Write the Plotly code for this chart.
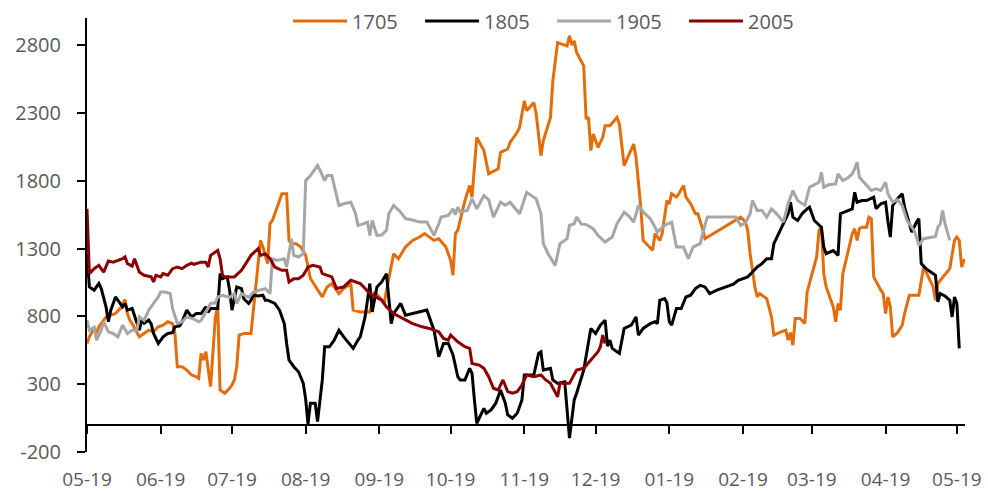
import plotly.graph_objects as go

# ---- data -------------------------------------------------------------
tick_dates = ["2019-05-19", "2019-06-19", "2019-07-19", "2019-08-19", "2019-09-19",
              "2019-10-19", "2019-11-19", "2019-12-19", "2020-01-19", "2020-02-19",
              "2020-03-19", "2020-04-19", "2020-05-19"]
tick_labels = ["05-19", "06-19", "07-19", "08-19", "09-19", "10-19", "11-19",
               "12-19", "01-19", "02-19", "03-19", "04-19", "05-19"]
y_ticks = [-200, 300, 800, 1300, 1800, 2300, 2800]
y_tick_labels = ["-200", "300", "800", "1300", "1800", "2300", "2800"]

d1705 = ["2019-05-19", "2019-05-20", "2019-05-22", "2019-05-23", "2019-05-24", "2019-05-26",
         "2019-05-27", "2019-05-29", "2019-05-31", "2019-06-02", "2019-06-04", "2019-06-05",
         "2019-06-06", "2019-06-07", "2019-06-10", "2019-06-12", "2019-06-14", "2019-06-16",
         "2019-06-18", "2019-06-20", "2019-06-22", "2019-06-24", "2019-06-25", "2019-06-26",
         "2019-06-28", "2019-06-30", "2019-07-02", "2019-07-04", "2019-07-05", "2019-07-06",
         "2019-07-07", "2019-07-08", "2019-07-10", "2019-07-12", "2019-07-13", "2019-07-14",
         "2019-07-16", "2019-07-18", "2019-07-19", "2019-07-20", "2019-07-21", "2019-07-22",
         "2019-07-24", "2019-07-27", "2019-07-29", "2019-07-31", "2019-08-01", "2019-08-03",
         "2019-08-04", "2019-08-05", "2019-08-07", "2019-08-09", "2019-08-11", "2019-08-12",
         "2019-08-13", "2019-08-15", "2019-08-17", "2019-08-19", "2019-08-21", "2019-08-24",
         "2019-08-26", "2019-08-28", "2019-08-30", "2019-09-02", "2019-09-04", "2019-09-07",
         "2019-09-08", "2019-09-11", "2019-09-15", "2019-09-17", "2019-09-19", "2019-09-21",
         "2019-09-22", "2019-09-23", "2019-09-25", "2019-09-27", "2019-09-30", "2019-10-03",
         "2019-10-06", "2019-10-08", "2019-10-12", "2019-10-14", "2019-10-17", "2019-10-19",
         "2019-10-20", "2019-10-21", "2019-10-22", "2019-10-25", "2019-10-27", "2019-10-28",
         "2019-10-30", "2019-11-02", "2019-11-04", "2019-11-08", "2019-11-09", "2019-11-12",
         "2019-11-13", "2019-11-16", "2019-11-17", "2019-11-19", "2019-11-20", "2019-11-23",
         "2019-11-24", "2019-11-26", "2019-11-27", "2019-11-30", "2019-12-01", "2019-12-03",
         "2019-12-07", "2019-12-08", "2019-12-09", "2019-12-10", "2019-12-11", "2019-12-14",
         "2019-12-15", "2019-12-16", "2019-12-17", "2019-12-18", "2019-12-20", "2019-12-22",
         "2019-12-23", "2019-12-25", "2019-12-28", "2019-12-29", "2019-12-31", "2020-01-04",
         "2020-01-05", "2020-01-07", "2020-01-08", "2020-01-12", "2020-01-13", "2020-01-15",
         "2020-01-16", "2020-01-18", "2020-01-19", "2020-01-20", "2020-01-22", "2020-01-23",
         "2020-01-25", "2020-01-26", "2020-01-28", "2020-01-30", "2020-01-31", "2020-02-02",
         "2020-02-03", "2020-02-18", "2020-02-20", "2020-02-21", "2020-02-22", "2020-02-24",
         "2020-02-25", "2020-02-26", "2020-02-29", "2020-03-02", "2020-03-03", "2020-03-06",
         "2020-03-08", "2020-03-09", "2020-03-10", "2020-03-11", "2020-03-12", "2020-03-14",
         "2020-03-16", "2020-03-17", "2020-03-18", "2020-03-20", "2020-03-21", "2020-03-22",
         "2020-03-23", "2020-03-24", "2020-03-25", "2020-03-28", "2020-03-29", "2020-03-30",
         "2020-03-31", "2020-04-01", "2020-04-03", "2020-04-05", "2020-04-06", "2020-04-07",
         "2020-04-08", "2020-04-09", "2020-04-11", "2020-04-12", "2020-04-13", "2020-04-14",
         "2020-04-17", "2020-04-18", "2020-04-19", "2020-04-20", "2020-04-21", "2020-04-22",
         "2020-04-24", "2020-04-26", "2020-04-27", "2020-04-29", "2020-05-03", "2020-05-05",
         "2020-05-07", "2020-05-09", "2020-05-10", "2020-05-11", "2020-05-12", "2020-05-16",
         "2020-05-18", "2020-05-19", "2020-05-20", "2020-05-21", "2020-05-22", "2020-05-23"]
v1705 = [600, 649, 713, 676, 723, 772,
         796, 809, 821, 858, 924, 821,
         772, 747, 649, 674, 698, 686,
         723, 735, 760, 747, 674, 429,
         429, 404, 368, 355, 343, 527,
         478, 539, 282, 796, 870, 257,
         233, 270, 294, 331, 429, 662,
         674, 674, 1017, 1360, 1311, 1189,
         1483, 1507, 1605, 1704, 1704, 1360,
         1336, 1336, 1311, 1250, 1079, 993,
         943, 1017, 1042, 968, 1005, 1042,
         846, 833, 833, 980, 943, 895,
         993, 1091, 1262, 1225, 1311, 1360,
         1385, 1410, 1360, 1373, 1311, 1213,
         1103, 1410, 1434, 1654, 1765, 1679,
         2120, 2022, 1851, 1888, 2010, 2034,
         2083, 2157, 2193, 2390, 2316, 2377,
         2292, 1985, 2096, 2267, 2537, 2818,
         2794, 2868, 2800, 2831, 2745, 2647,
         2255, 2267, 2022, 2145, 2047, 2120,
         2206, 2206, 2267, 2218, 1912, 2071,
         1973, 1605, 1360, 1287, 1410, 1360,
         1410, 1654, 1630, 1704, 1680, 1704,
         1765, 1679, 1630, 1557, 1557, 1446,
         1373, 1532, 1500, 1434, 1262, 1017,
         943, 968, 931, 796, 662, 686,
         698, 625, 680, 588, 784, 784,
         747, 980, 1042, 1164, 1238, 1434,
         1458, 1115, 1017, 870, 760, 895,
         846, 1115, 1262, 1410, 1446, 1360,
         1446, 1458, 1458, 1532, 1520, 1091,
         993, 968, 821, 943, 870, 649,
         680, 735, 821, 956, 956, 1164,
         1091, 1017, 919, 1042, 1066, 1152,
         1360, 1385, 1360, 1164, 1213, 1213]

d1805 = ["2019-05-19", "2019-05-20", "2019-05-22", "2019-05-24", "2019-05-25", "2019-05-27",
         "2019-05-28", "2019-05-29", "2019-05-31", "2019-06-01", "2019-06-03", "2019-06-04",
         "2019-06-05", "2019-06-07", "2019-06-08", "2019-06-10", "2019-06-11", "2019-06-12",
         "2019-06-14", "2019-06-15", "2019-06-16", "2019-06-18", "2019-06-20", "2019-06-22",
         "2019-06-24", "2019-06-25", "2019-06-27", "2019-06-28", "2019-06-30", "2019-07-02",
         "2019-07-04", "2019-07-06", "2019-07-08", "2019-07-09", "2019-07-10", "2019-07-13",
         "2019-07-14", "2019-07-15", "2019-07-17", "2019-07-18", "2019-07-19", "2019-07-21",
         "2019-07-23", "2019-07-24", "2019-07-26", "2019-07-27", "2019-07-28", "2019-07-30",
         "2019-08-01", "2019-08-02", "2019-08-03", "2019-08-06", "2019-08-08", "2019-08-10",
         "2019-08-11", "2019-08-12", "2019-08-13", "2019-08-14", "2019-08-16", "2019-08-18",
         "2019-08-19", "2019-08-20", "2019-08-21", "2019-08-23", "2019-08-24", "2019-08-26",
         "2019-08-27", "2019-08-29", "2019-08-31", "2019-09-02", "2019-09-04", "2019-09-08",
         "2019-09-10", "2019-09-11", "2019-09-13", "2019-09-14", "2019-09-15", "2019-09-16",
         "2019-09-18", "2019-09-20", "2019-09-22", "2019-09-24", "2019-09-25", "2019-09-28",
         "2019-09-30", "2019-10-03", "2019-10-09", "2019-10-12", "2019-10-14", "2019-10-16",
         "2019-10-18", "2019-10-20", "2019-10-22", "2019-10-23", "2019-10-25", "2019-10-27",
         "2019-10-28", "2019-10-29", "2019-10-30", "2019-11-02", "2019-11-03", "2019-11-05",
         "2019-11-07", "2019-11-09", "2019-11-11", "2019-11-12", "2019-11-14", "2019-11-16",
         "2019-11-18", "2019-11-19", "2019-11-21", "2019-11-23", "2019-11-25", "2019-11-26",
         "2019-11-27", "2019-11-30", "2019-12-01", "2019-12-03", "2019-12-06", "2019-12-08",
         "2019-12-10", "2019-12-11", "2019-12-14", "2019-12-15", "2019-12-17", "2019-12-19",
         "2019-12-21", "2019-12-23", "2019-12-24", "2019-12-25", "2019-12-26", "2019-12-29",
         "2019-12-31", "2020-01-03", "2020-01-05", "2020-01-06", "2020-01-08", "2020-01-11",
         "2020-01-13", "2020-01-14", "2020-01-15", "2020-01-17", "2020-01-18", "2020-01-19",
         "2020-01-20", "2020-01-22", "2020-01-24", "2020-01-26", "2020-01-28", "2020-01-30",
         "2020-02-01", "2020-02-03", "2020-02-05", "2020-02-08", "2020-02-12", "2020-02-15",
         "2020-02-17", "2020-02-19", "2020-02-21", "2020-02-23", "2020-02-25", "2020-02-27",
         "2020-02-29", "2020-03-02", "2020-03-03", "2020-03-05", "2020-03-07", "2020-03-09",
         "2020-03-10", "2020-03-11", "2020-03-13", "2020-03-15", "2020-03-17", "2020-03-18",
         "2020-03-20", "2020-03-21", "2020-03-23", "2020-03-24", "2020-03-25", "2020-03-28",
         "2020-03-30", "2020-03-31", "2020-04-03", "2020-04-05", "2020-04-06", "2020-04-07",
         "2020-04-09", "2020-04-11", "2020-04-14", "2020-04-15", "2020-04-17", "2020-04-19",
         "2020-04-20", "2020-04-21", "2020-04-22", "2020-04-24", "2020-04-26", "2020-04-27",
         "2020-04-29", "2020-04-30", "2020-05-02", "2020-05-03", "2020-05-04", "2020-05-06",
         "2020-05-08", "2020-05-10", "2020-05-11", "2020-05-12", "2020-05-14", "2020-05-16",
         "2020-05-17", "2020-05-18", "2020-05-19", "2020-05-20"]
v1805 = [1262, 1017, 993, 1042, 1005, 870,
         760, 846, 943, 920, 870, 895,
         846, 858, 809, 698, 772, 750,
         772, 745, 674, 600, 649, 674,
         680, 723, 730, 760, 846, 796,
         821, 821, 870, 830, 858, 858,
         1115, 1078, 1091, 993, 846, 1017,
         1005, 930, 895, 919, 956, 950,
         956, 919, 919, 895, 846, 747,
         600, 478, 454, 429, 392, 306,
         190, 5, 160, 160, 24, 331,
         576, 576, 625, 698, 649, 564,
         625, 650, 796, 931, 1042, 833,
         1017, 1054, 1115, 747, 821, 895,
         809, 821, 846, 698, 502, 600,
         600, 515, 355, 331, 331, 417,
         380, 184, 12, 122, 86, 110,
         160, 257, 160, 74, 49, 86,
         184, 368, 370, 368, 527, 539,
         404, 417, 331, 306, 318, -98,
         184, 233, 404, 515, 711, 674,
         735, 772, 580, 625, 564, 527,
         711, 735, 796, 662, 711, 747,
         760, 747, 919, 931, 900, 760,
         735, 858, 858, 943, 956, 1005,
         1029, 1017, 968, 993, 1017, 1037,
         1066, 1078, 1091, 1127, 1164, 1189,
         1225, 1225, 1336, 1410, 1483, 1557,
         1642, 1532, 1507, 1560, 1593, 1605,
         1507, 1490, 1458, 1311, 1262, 1285,
         1250, 1557, 1581, 1593, 1715, 1642,
         1654, 1654, 1679, 1593, 1630, 1642,
         1500, 1385, 1618, 1667, 1704, 1605,
         1483, 1421, 1495, 1520, 1189, 1152,
         1127, 1103, 907, 968, 950, 919,
         796, 943, 895, 564]

d1905 = ["2019-05-19", "2019-05-20", "2019-05-22", "2019-05-23", "2019-05-25", "2019-05-26",
         "2019-05-28", "2019-05-30", "2019-06-01", "2019-06-03", "2019-06-05", "2019-06-07",
         "2019-06-09", "2019-06-10", "2019-06-12", "2019-06-14", "2019-06-16", "2019-06-18",
         "2019-06-19", "2019-06-21", "2019-06-23", "2019-06-24", "2019-06-26", "2019-06-28",
         "2019-06-30", "2019-07-03", "2019-07-05", "2019-07-06", "2019-07-08", "2019-07-09",
         "2019-07-10", "2019-07-12", "2019-07-13", "2019-07-15", "2019-07-18", "2019-07-20",
         "2019-07-21", "2019-07-23", "2019-07-26", "2019-07-28", "2019-07-30", "2019-08-02",
         "2019-08-04", "2019-08-05", "2019-08-07", "2019-08-10", "2019-08-11", "2019-08-13",
         "2019-08-14", "2019-08-16", "2019-08-18", "2019-08-19", "2019-08-21", "2019-08-24",
         "2019-08-25", "2019-08-27", "2019-08-28", "2019-08-30", "2019-09-02", "2019-09-04",
         "2019-09-07", "2019-09-09", "2019-09-10", "2019-09-12", "2019-09-14", "2019-09-15",
         "2019-09-16", "2019-09-18", "2019-09-20", "2019-09-22", "2019-09-23", "2019-09-25",
         "2019-09-28", "2019-09-30", "2019-10-03", "2019-10-06", "2019-10-09", "2019-10-12",
         "2019-10-14", "2019-10-15", "2019-10-18", "2019-10-20", "2019-10-21", "2019-10-22",
         "2019-10-23", "2019-10-26", "2019-10-28", "2019-10-30", "2019-11-02", "2019-11-04",
         "2019-11-06", "2019-11-09", "2019-11-11", "2019-11-13", "2019-11-17", "2019-11-20",
         "2019-11-23", "2019-11-24", "2019-11-26", "2019-11-27", "2019-11-29", "2019-12-02",
         "2019-12-04", "2019-12-07", "2019-12-08", "2019-12-10", "2019-12-11", "2019-12-13",
         "2019-12-15", "2019-12-18", "2019-12-20", "2019-12-23", "2019-12-26", "2019-12-28",
         "2019-12-31", "2020-01-02", "2020-01-04", "2020-01-06", "2020-01-08", "2020-01-11",
         "2020-01-13", "2020-01-14", "2020-01-17", "2020-01-20", "2020-01-22", "2020-01-25",
         "2020-01-27", "2020-01-29", "2020-02-01", "2020-02-02", "2020-02-04", "2020-02-16",
         "2020-02-18", "2020-02-20", "2020-02-22", "2020-02-23", "2020-02-25", "2020-02-27",
         "2020-02-29", "2020-03-02", "2020-03-04", "2020-03-07", "2020-03-09", "2020-03-11",
         "2020-03-13", "2020-03-16", "2020-03-18", "2020-03-20", "2020-03-22", "2020-03-23",
         "2020-03-24", "2020-03-26", "2020-03-29", "2020-03-30", "2020-04-01", "2020-04-03",
         "2020-04-05", "2020-04-06", "2020-04-07", "2020-04-08", "2020-04-11", "2020-04-13",
         "2020-04-15", "2020-04-17", "2020-04-19", "2020-04-20", "2020-04-22", "2020-04-24",
         "2020-04-26", "2020-04-28", "2020-04-29", "2020-05-01", "2020-05-02", "2020-05-03",
         "2020-05-05", "2020-05-08", "2020-05-10", "2020-05-11", "2020-05-12", "2020-05-13",
         "2020-05-14", "2020-05-16"]
v1905 = [772, 698, 720, 625, 698, 760,
         686, 674, 649, 735, 674, 700,
         698, 796, 770, 846, 895, 943,
         980, 980, 968, 858, 747, 760,
         796, 780, 760, 770, 833, 860,
         895, 900, 943, 956, 940, 968,
         895, 968, 940, 980, 990, 1005,
         968, 1225, 1213, 1225, 1164, 1373,
         1250, 1238, 1262, 1801, 1838, 1912,
         1880, 1801, 1838, 1838, 1618, 1630,
         1642, 1557, 1471, 1480, 1495, 1397,
         1507, 1397, 1400, 1434, 1557, 1618,
         1568, 1520, 1510, 1495, 1495, 1397,
         1483, 1532, 1544, 1593, 1550, 1605,
         1570, 1581, 1667, 1593, 1691, 1660,
         1532, 1642, 1620, 1642, 1557, 1715,
         1679, 1667, 1557, 1336, 1262, 1176,
         1336, 1373, 1471, 1483, 1532, 1480,
         1478, 1446, 1397, 1348, 1385, 1483,
         1568, 1540, 1495, 1618, 1570, 1520,
         1458, 1421, 1471, 1495, 1311, 1311,
         1225, 1311, 1336, 1410, 1532, 1532,
         1471, 1490, 1557, 1654, 1581, 1581,
         1532, 1593, 1560, 1495, 1630, 1728,
         1654, 1618, 1752, 1770, 1789, 1862,
         1752, 1770, 1777, 1851, 1801, 1820,
         1851, 1888, 1936, 1826, 1765, 1728,
         1740, 1728, 1789, 1704, 1642, 1660,
         1618, 1507, 1483, 1434, 1385, 1324,
         1373, 1385, 1390, 1458, 1480, 1581,
         1483, 1360]

d2005 = ["2019-05-19", "2019-05-20", "2019-05-22", "2019-05-24", "2019-05-26", "2019-05-28",
         "2019-05-30", "2019-06-01", "2019-06-03", "2019-06-04", "2019-06-05", "2019-06-07",
         "2019-06-08", "2019-06-10", "2019-06-11", "2019-06-12", "2019-06-15", "2019-06-16",
         "2019-06-17", "2019-06-19", "2019-06-20", "2019-06-22", "2019-06-24", "2019-06-26",
         "2019-06-28", "2019-06-30", "2019-07-02", "2019-07-03", "2019-07-06", "2019-07-08",
         "2019-07-09", "2019-07-10", "2019-07-13", "2019-07-14", "2019-07-15", "2019-07-16",
         "2019-07-20", "2019-07-23", "2019-07-27", "2019-07-30", "2019-07-31", "2019-08-02",
         "2019-08-04", "2019-08-06", "2019-08-09", "2019-08-11", "2019-08-12", "2019-08-14",
         "2019-08-16", "2019-08-18", "2019-08-20", "2019-08-22", "2019-08-25", "2019-08-26",
         "2019-08-30", "2019-09-01", "2019-09-04", "2019-09-07", "2019-09-11", "2019-09-15",
         "2019-09-20", "2019-09-22", "2019-09-25", "2019-09-30", "2019-10-03", "2019-10-07",
         "2019-10-10", "2019-10-14", "2019-10-16", "2019-10-18", "2019-10-19", "2019-10-22",
         "2019-10-25", "2019-10-27", "2019-10-28", "2019-10-31", "2019-11-02", "2019-11-04",
         "2019-11-06", "2019-11-08", "2019-11-10", "2019-11-12", "2019-11-14", "2019-11-16",
         "2019-11-18", "2019-11-20", "2019-11-23", "2019-11-26", "2019-11-28", "2019-11-30",
         "2019-12-03", "2019-12-04", "2019-12-08", "2019-12-11", "2019-12-14", "2019-12-17",
         "2019-12-20", "2019-12-21", "2019-12-22", "2019-12-23"]
v2005 = [1593, 1115, 1152, 1176, 1127, 1208,
         1200, 1213, 1225, 1238, 1189, 1170,
         1225, 1127, 1115, 1103, 1091, 1054,
         1103, 1091, 1115, 1103, 1152, 1164,
         1152, 1176, 1193, 1184, 1200, 1200,
         1164, 1250, 1287, 1225, 1103, 1091,
         1091, 1140, 1250, 1299, 1250, 1262,
         1225, 1164, 1140, 1140, 1054, 1078,
         1078, 1103, 1164, 1176, 1164, 1115,
         1091, 1005, 1017, 1066, 1042, 968,
         919, 870, 821, 772, 747, 723,
         711, 686, 637, 625, 662, 613,
         576, 564, 453, 441, 417, 355,
         270, 257, 331, 245, 233, 245,
         294, 368, 355, 368, 331, 306,
         208, 306, 306, 404, 417, 478,
         539, 576, 662, 600]

series = [("1705", d1705, v1705, "#E46C0A"),
          ("1805", d1805, v1805, "#000000"),
          ("1905", d1905, v1905, "#A6A6A6"),
          ("2005", d2005, v2005, "#8B0000")]

# ---- figure -----------------------------------------------------------
Y_MIN, Y_MAX = -200, 3000
X_RANGE = ["2019-05-19", "2020-05-22 10:00"]
TEXT = "#595959"
FONT = "Open Sans"

fig = go.Figure()
for name, d, v, color in series:
    fig.add_trace(go.Scatter(x=d, y=v, name=name, mode="lines",
                             line=dict(color=color, width=3)))

# invisible trace that carries the axis drawn at y = 0
fig.add_trace(go.Scatter(x=[tick_dates[0]], y=[None], xaxis="x2",
                         showlegend=False, hoverinfo="skip"))

fig.update_layout(
    width=988, height=492,
    margin=dict(l=87, r=23, t=18, b=40, autoexpand=False),
    paper_bgcolor="white", plot_bgcolor="white",
    font=dict(family=FONT, size=20, color=TEXT),
    showlegend=True,
    legend=dict(orientation="h", x=0.229, xanchor="left", y=0.993, yanchor="middle",
                bgcolor="rgba(0,0,0,0)", font=dict(size=20, color=TEXT),
                itemwidth=54, entrywidth=63, entrywidthmode="pixels"),
    xaxis=dict(type="date", range=X_RANGE, tickvals=tick_dates, ticktext=tick_labels,
               showline=False, showgrid=False, zeroline=False, ticks="",
               automargin=False, ticklabelstandoff=14,
               tickfont=dict(size=19, color=TEXT)),
    xaxis2=dict(type="date", range=X_RANGE, overlaying="x", anchor="free",
                position=(0 - Y_MIN) / (Y_MAX - Y_MIN), side="bottom",
                tickvals=tick_dates, showticklabels=False, showgrid=False,
                zeroline=False, showline=True, linecolor="black", linewidth=2,
                ticks="outside", ticklen=8, tickwidth=2, tickcolor="black",
                automargin=False),
    yaxis=dict(range=[Y_MIN, Y_MAX], tickvals=y_ticks, ticktext=y_tick_labels,
               showgrid=False, zeroline=False, showline=True, linecolor="black",
               linewidth=2, ticks="outside", ticklen=8, tickwidth=2, tickcolor="black",
               automargin=False, ticklabelstandoff=12,
               tickfont=dict(size=20, color=TEXT)),
)

fig.write_html("out.html")
